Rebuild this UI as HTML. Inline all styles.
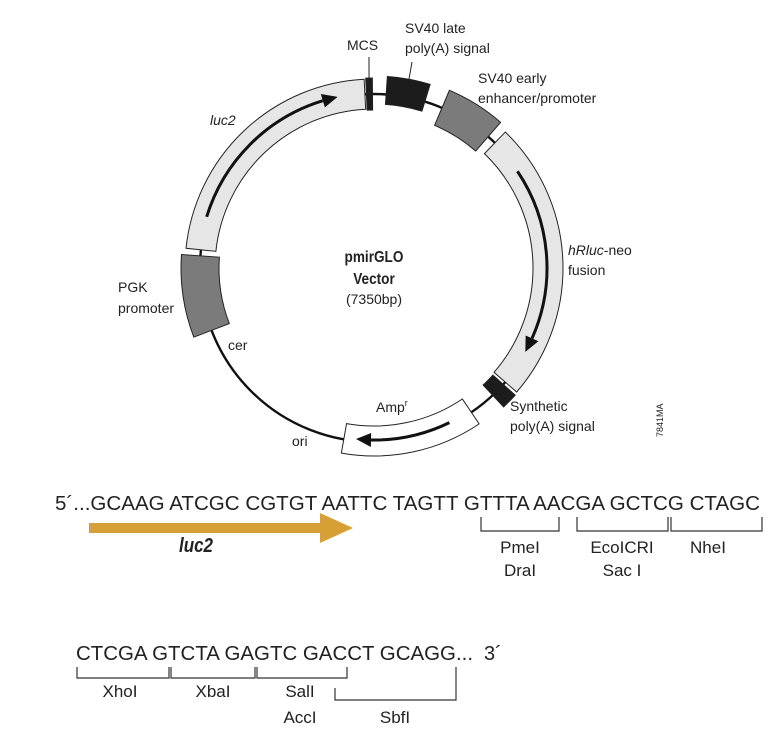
<!DOCTYPE html>
<html><head><meta charset="utf-8"><style>
html,body{margin:0;padding:0;background:#fff;}
svg{display:block;font-family:"Liberation Sans",sans-serif;}
</style></head><body>
<svg id="s" width="777" height="743" viewBox="0 0 777 743" xmlns="http://www.w3.org/2000/svg">
<g id="shapes"></g>
<g fill="#222" font-size="14">
<text x="347" y="50">MCS</text>
<text x="405" y="33">SV40 late</text>
<text x="405" y="53">poly(A) signal</text>
<text x="478" y="83">SV40 early</text>
<text x="478" y="103">enhancer/promoter</text>
<text x="210" y="125" font-style="italic">luc2</text>
<text x="568" y="255"><tspan font-style="italic">hRluc</tspan>-neo</text>
<text x="568" y="275">fusion</text>
<text x="118" y="292">PGK</text>
<text x="118" y="313">promoter</text>
<text x="228" y="350">cer</text>
<text x="376" y="412">Amp<tspan font-size="9" dy="-6">r</tspan></text>
<text x="292" y="446">ori</text>
<text x="510" y="411">Synthetic</text>
<text x="510" y="431">poly(A) signal</text>
<text x="374" y="262" text-anchor="middle" font-weight="bold" font-size="16" transform="translate(374 0) scale(0.85 1) translate(-374 0)">pmirGLO</text>
<text x="374" y="284" text-anchor="middle" font-weight="bold" font-size="16" transform="translate(374 0) scale(0.85 1) translate(-374 0)">Vector</text>
<text x="374" y="304" text-anchor="middle">(7350bp)</text>
<text x="0" y="0" font-size="9" transform="translate(663 437) rotate(-90)">7841MA</text>
</g>
<g fill="#222" font-size="20">
<text x="55" y="510" textLength="705" lengthAdjust="spacingAndGlyphs">5´...GCAAG ATCGC CGTGT AATTC TAGTT GTTTA AACGA GCTCG CTAGC</text>
<text x="76" y="660" textLength="397" lengthAdjust="spacingAndGlyphs">CTCGA GTCTA GAGTC GACCT GCAGG...</text>
<text x="484" y="660">3´</text>
</g>
<g fill="#222" font-size="17" text-anchor="middle">
<text x="520" y="553">PmeI</text>
<text x="520" y="576">DraI</text>
<text x="622" y="553">EcoICRI</text>
<text x="622" y="576">Sac I</text>
<text x="708" y="553">NheI</text>
<text x="120" y="697">XhoI</text>
<text x="213" y="697">XbaI</text>
<text x="300" y="697">SalI</text>
<text x="300" y="723">AccI</text>
<text x="395" y="723">SbfI</text>
</g>
<g stroke="#333" stroke-width="1.2" fill="none">
<polyline points="481,517 481,531 559,531 559,517"/>
<polyline points="577,517 577,531 668,531 668,517"/>
<polyline points="671,517 671,531 762,531 762,517"/>
<polyline points="77,667 77,678 169,678 169,667"/>
<polyline points="171,667 171,678 255,678 255,667"/>
<polyline points="257,667 257,678 347,678 347,667"/>
<polyline points="335,688 335,700 456,700 456,667"/>
</g>
<rect x="89" y="523" width="233" height="10" fill="#D6A036"/>
<polygon points="320,513 353,528 320,543" fill="#D6A036"/>
<text x="196" y="552" text-anchor="middle" font-weight="bold" font-style="italic" font-size="20" fill="#222" transform="translate(196 0) scale(0.85 1) translate(-196 0)">luc2</text>
</svg>
<script>
var cx=374,cy=268,R=174,NS="http://www.w3.org/2000/svg",g=document.getElementById('shapes');
function P(r,t){t=t*Math.PI/180;return [cx+r*Math.sin(t),cy-r*Math.cos(t)];}
function el(n,a){var e=document.createElementNS(NS,n);for(var k in a)e.setAttribute(k,a[k]);g.appendChild(e);return e;}
el('circle',{cx:cx,cy:cy,r:R,fill:'none',stroke:'#111','stroke-width':2.4});
function box(t1,t2,ri,ro,fill){var a=P(ro,t1),b=P(ro,t2),c=P(ri,t2),d=P(ri,t1),lg=(t2-t1)>180?1:0;
el('path',{d:'M'+a+' A'+ro+' '+ro+' 0 '+lg+' 1 '+b+' L'+c+' A'+ri+' '+ri+' 0 '+lg+' 0 '+d+' Z',fill:fill,stroke:'#222','stroke-width':1});}
function arrow(t1,t2,r){var cw=t2>t1,hl=5,te=cw?t2-hl:t2+hl;var a=P(r,t1),b=P(r,te);
el('path',{d:'M'+a+' A'+r+' '+r+' 0 0 '+(cw?1:0)+' '+b,fill:'none',stroke:'#111','stroke-width':3});
var tip=P(r,t2),l=P(r+7,te),m=P(r-7,te);el('polygon',{points:tip+' '+l+' '+m,fill:'#111'});}
box(276,357,159,189,'#e6e6e6');
box(249,274,155,193,'#7b7b7b');
box(23,41,155,193,'#7b7b7b');
box(44,131,159,189,'#e6e6e6');
box(146,190,158,188,'#fff');
box(4,17,164,192,'#1c1c1c');
box(357.5,359.5,158,190,'#1c1c1c');
box(132,137,160,190,'#1c1c1c');
arrow(287,348,175);
arrow(56,119,173);
arrow(154,186,172);
var m1=P(190,358.5);el('line',{x1:m1[0],y1:m1[1],x2:369,y2:57,stroke:'#222','stroke-width':1});
var m2=P(192,10.5);el('line',{x1:m2[0],y1:m2[1],x2:412,y2:62,stroke:'#222','stroke-width':1});
</script>
</body></html>
